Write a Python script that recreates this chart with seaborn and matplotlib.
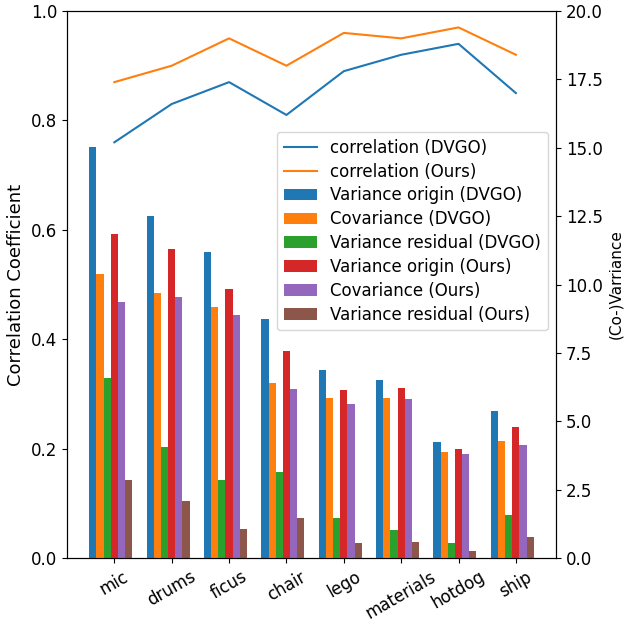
import numpy as np
import pandas as pd

import matplotlib
matplotlib.use("Agg")
import matplotlib.pyplot as plt
import seaborn as sns

scenes = ["mic", "drums", "ficus", "chair", "lego", "materials", "hotdog", "ship"]

# correlation coefficient (left axis)
corr_dvgo = [0.76, 0.83, 0.87, 0.81, 0.89, 0.92, 0.94, 0.85]
corr_ours = [0.87, 0.90, 0.95, 0.90, 0.96, 0.95, 0.97, 0.92]

# (co-)variance (right axis)
var_origin_dvgo = [15.04, 12.50, 11.19, 8.74, 6.87, 6.51, 4.24, 5.37]
cov_dvgo = [10.38, 9.69, 9.18, 6.40, 5.85, 5.85, 3.88, 4.28]
var_resid_dvgo = [6.58, 4.06, 2.85, 3.14, 1.46, 1.02, 0.55, 1.57]
var_origin_ours = [11.85, 11.30, 9.84, 7.57, 6.14, 6.22, 3.99, 4.79]
cov_ours = [9.36, 9.54, 8.88, 6.18, 5.63, 5.81, 3.80, 4.13]
var_resid_ours = [2.85, 2.08, 1.06, 1.46, 0.55, 0.58, 0.26, 0.77]

bar_series = {
    "Variance origin (DVGO)": var_origin_dvgo,
    "Covariance (DVGO)": cov_dvgo,
    "Variance residual (DVGO)": var_resid_dvgo,
    "Variance origin (Ours)": var_origin_ours,
    "Covariance (Ours)": cov_ours,
    "Variance residual (Ours)": var_resid_ours,
}

df = pd.DataFrame(
    [(s, name, v) for name, vals in bar_series.items() for s, v in zip(scenes, vals)],
    columns=["scene", "series", "value"],
)

bar_w = 0.125
# ticks sit half a bar right of the group centre, like in the original
xpos = np.arange(len(scenes)) + bar_w / 2

fig = plt.figure(figsize=(6.24, 6.19), dpi=100)
ax = fig.add_axes([0.1074, 0.0985, 0.7837, 0.8837])
ax2 = ax.twinx()

# bars on the right axis
sns.barplot(
    data=df, x="scene", y="value", hue="series",
    order=scenes, hue_order=list(bar_series),
    palette=sns.color_palette("tab10", 6), saturation=1,
    width=bar_w * 6, ax=ax2,
)
bar_leg = ax2.get_legend()
bar_handles = list(bar_leg.legend_handles)
bar_labels = [t.get_text() for t in bar_leg.get_texts()]
bar_leg.remove()

# correlation lines on the left axis
sns.lineplot(x=xpos, y=corr_dvgo, ax=ax, color="C0", linewidth=1.5, label="correlation (DVGO)")
sns.lineplot(x=xpos, y=corr_ours, ax=ax, color="C1", linewidth=1.5, label="correlation (Ours)")
line_handles, line_labels = ax.get_legend_handles_labels()
ax.get_legend().remove()

ax.set_xlim(-0.7625, 7.7625)
ax.set_xticks(xpos)
ax.set_xticklabels(scenes, rotation=30, fontsize=12)
ax.set_ylim(0, 1.0)
ax2.set_ylim(0, 20)
ax2.set_xlabel("")
ax.tick_params(axis="y", labelsize=12)
ax2.tick_params(axis="y", labelsize=12)
ax.set_ylabel("Correlation Coefficient", fontsize=13)
ax2.set_ylabel("(Co-)Varriance", fontsize=11)

ax2.legend(
    line_handles + bar_handles, line_labels + bar_labels,
    loc="upper right", bbox_to_anchor=(1.0, 0.794), fontsize=12,
    labelspacing=0.35,
)

fig.savefig("out.png", dpi=100)
